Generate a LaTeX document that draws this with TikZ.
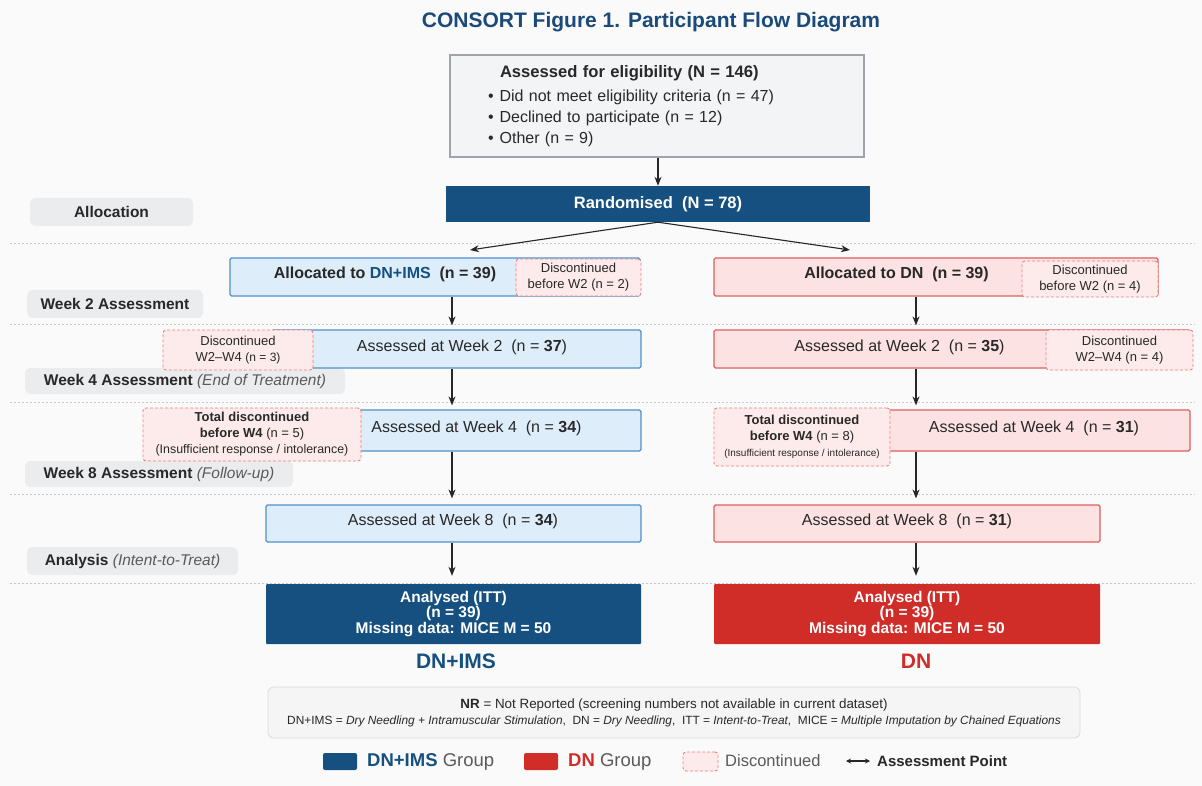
\documentclass[tikz,border=0pt]{standalone}
\usepackage{fontspec}
\setmainfont{Liberation Sans}
\usetikzlibrary{arrows.meta}
\definecolor{navy}{RGB}{22,80,128}
\definecolor{titleblue}{RGB}{26,74,122}
\definecolor{lblue}{RGB}{221,237,250}
\definecolor{bblue}{RGB}{79,145,205}
\definecolor{lpink}{RGB}{252,226,226}
\definecolor{bred}{RGB}{222,95,95}
\definecolor{dred}{RGB}{208,45,40}
\definecolor{dpink}{RGB}{253,234,234}
\definecolor{ddash}{RGB}{232,130,130}
\definecolor{lgray}{RGB}{235,236,238}
\definecolor{tgray}{RGB}{40,40,40}
\definecolor{igray}{RGB}{90,90,90}
\definecolor{sepgray}{RGB}{200,200,205}
\definecolor{bg}{RGB}{250,250,251}
\definecolor{elfill}{RGB}{243,244,246}
\definecolor{elbord}{RGB}{160,163,170}
\definecolor{notefill}{RGB}{245,245,246}
\definecolor{notebord}{RGB}{218,218,222}
\newcommand\fsz[2]{\fontsize{#1}{#2}\selectfont}
\tikzset{
  x=1pt, y=-1pt,
  bluebox/.style={draw=bblue, fill=lblue, line width=1.2pt, rounded corners=1.5pt, inner sep=0pt},
  redbox/.style={draw=bred, fill=lpink, line width=1.2pt, rounded corners=1.5pt, inner sep=0pt},
  darkbox/.style={fill=#1, inner sep=0pt, rounded corners=1pt, text=white, align=center, font=\fsz{15.5}{15.5}\bfseries},
  disc/.style={draw=ddash, fill=dpink, dash pattern=on 3pt off 2pt, line width=0.9pt, rounded corners=3pt,
     inner sep=0pt, align=center, text=tgray, font=\fsz{13}{16}},
  stage/.style={fill=lgray, rounded corners=5pt, inner sep=0pt, text=tgray, font=\fsz{15.5}{18}},
  btext/.style={text=tgray, font=\fsz{16}{19}, inner sep=0pt},
  sep/.style={draw=sepgray, dash pattern=on 2pt off 2pt, line width=0.8pt},
  arr/.style={-{Stealth[length=9pt,width=7pt]}, line width=1.1pt, draw=black!85},
}
\begin{document}
\begin{tikzpicture}
\fill[bg] (0,0) rectangle (1202,786);
\useasboundingbox (0,0) rectangle (1202,786);

% title
\node[text=titleblue, font=\fsz{21}{24}\bfseries] (title) at (651,22) {CONSORT Figure 1. Participant Flow Diagram};

% separators
\foreach \yy in {243,324,402,494,583} \draw[sep] (10,\yy) -- (1195,\yy);

% stage labels
\node[stage, minimum width=163pt, minimum height=28pt] (sAlloc) at (111.5,212) {\bfseries Allocation};
\node[stage, minimum width=176pt, minimum height=28pt] (sW2) at (115,304) {\bfseries Week 2 Assessment};
\node[stage, minimum width=320pt, minimum height=26pt] (sW4) at (185,381) {\textbf{Week 4 Assessment} \textcolor{igray}{\itshape (End of Treatment)}};
\node[stage, minimum width=268pt, minimum height=26pt] (sW8) at (159,474) {\textbf{Week 8 Assessment} \textcolor{igray}{\itshape (Follow-up)}};
\node[stage, minimum width=211pt, minimum height=28pt] (sAna) at (132.5,561) {\textbf{Analysis} \textcolor{igray}{\itshape (Intent-to-Treat)}};

% eligibility
\node[draw=elbord, fill=elfill, line width=1.2pt, inner sep=0pt, minimum width=414pt, minimum height=102pt,
      text width=338pt, align=left, text=tgray, font=\fsz{16}{21}] (elig) at (657,106)
 {\hspace*{12pt}{\fsz{16.6}{21}\bfseries Assessed for eligibility (N = 146)}\\[3pt]
  •\hspace{6pt}Did not meet eligibility criteria (n = 47)\\
  •\hspace{6pt}Declined to participate (n = 12)\\
  •\hspace{6pt}Other (n = 9)};

% randomised
\node[fill=navy, inner sep=0pt, minimum width=424pt, minimum height=36pt, text=white, font=\fsz{16.5}{19}\bfseries] (rand) at (658,204)
 {Randomised\ \ (N = 78)};

\coordinate (aL) at (470,250);
\coordinate (aR) at (850,250);
\coordinate (colL) at (452,0);
\coordinate (colR) at (916,0);

% allocation row
\node[bluebox, minimum width=410pt, minimum height=38pt] (allocL) at (435,277) {};
\node[btext, font=\fsz{16}{19}\bfseries] (allocLt) at (385,274) {Allocated to \textcolor{navy}{DN+IMS}\ \ (n = 39)};
\node[disc, minimum width=125pt, minimum height=37pt] (discL1) at (578.5,277.5) {Discontinued\\before W2 (n = 2)};

\node[redbox, minimum width=444pt, minimum height=38pt] (allocR) at (936,277) {};
\node[btext, font=\fsz{16}{19}\bfseries] (allocRt) at (896.5,274) {Allocated to DN\ \ (n = 39)};
\node[disc, minimum width=136pt, minimum height=36pt] (discR1) at (1090,279) {Discontinued\\before W2 (n = 4)};

% week 2 row
\node[bluebox, minimum width=369pt, minimum height=38pt] (wk2L) at (456.5,349) {};
\node[btext] (wk2Lt) at (462,347) {Assessed at Week 2\ \ (n = \textbf{37})};
\node[disc, minimum width=150pt, minimum height=40pt] (discL2) at (238,350) {Discontinued\\W2–W4 {\fsz{12}{16}(n = 3)}};

\node[redbox, minimum width=476pt, minimum height=38pt] (wk2R) at (952,349) {};
\node[btext] (wk2Rt) at (899.5,347) {Assessed at Week 2\ \ (n = \textbf{35})};
\node[disc, minimum width=147pt, minimum height=40pt] (discR2) at (1119.5,350) {Discontinued\\W2–W4 (n = 4)};

% week 4 row
\node[bluebox, minimum width=328pt, minimum height=41pt] (wk4L) at (477,430.5) {};
\node[btext] (wk4Lt) at (476.5,428) {Assessed at Week 4\ \ (n = \textbf{34})};
\node[disc, minimum width=218pt, minimum height=53pt] (discL3) at (252,434.5)
 {{\bfseries Total discontinued}\\{\bfseries before W4} (n = 5)\\{\fsz{12.4}{15}(Insufficient response / intolerance)}};

\node[redbox, minimum width=330pt, minimum height=41pt] (wk4R) at (1025,430.5) {};
\node[btext] (wk4Rt) at (1034,428) {Assessed at Week 4\ \ (n = \textbf{31})};
\node[disc, minimum width=176pt, minimum height=58pt] (discR3) at (802,437)
 {{\bfseries Total discontinued}\\{\bfseries before W4} (n = 8)\\{\fsz{10}{15}(Insufficient response / intolerance)}};

% week 8 row
\node[bluebox, minimum width=375pt, minimum height=37pt] (wk8L) at (453.5,523.5) {};
\node[btext] (wk8Lt) at (453,521) {Assessed at Week 8\ \ (n = \textbf{34})};
\node[redbox, minimum width=386pt, minimum height=37pt] (wk8R) at (907,523.5) {};
\node[btext] (wk8Rt) at (907,521) {Assessed at Week 8\ \ (n = \textbf{31})};

% analysed
\node[darkbox=navy, minimum width=375pt, minimum height=60pt] (anaL) at (453.5,614)
 {Analysed (ITT)\\(n = 39)\\Missing data: MICE M = 50};
\node[darkbox=dred, minimum width=386pt, minimum height=60pt] (anaR) at (907,614)
 {Analysed (ITT)\\(n = 39)\\Missing data: MICE M = 50};

\node[text=navy, font=\fsz{21}{24}\bfseries] (gL) at (456,661) {DN+IMS};
\node[text=dred, font=\fsz{21}{24}\bfseries] (gR) at (916,661) {DN};

% arrows
\draw[arr] (elig.south -| rand.north) -- (rand.north);
\draw[arr] (rand.south) -- (aL);
\draw[arr] (rand.south) -- (aR);
\draw[arr, shorten >=4pt] (allocL.south -| colL) -- (wk2L.north -| colL);
\draw[arr, shorten >=4pt] (wk2L.south -| colL) -- (wk4L.north -| colL);
\draw[arr, shorten >=6pt] (wk4L.south -| colL) -- (wk8L.north -| colL);
\draw[arr, shorten >=8pt] (wk8L.south -| colL) -- (anaL.north -| colL);
\draw[arr, shorten >=4pt] (allocR.south -| colR) -- (wk2R.north -| colR);
\draw[arr, shorten >=4pt] (wk2R.south -| colR) -- (wk4R.north -| colR);
\draw[arr, shorten >=6pt] (wk4R.south -| colR) -- (wk8R.north -| colR);
\draw[arr, shorten >=8pt] (wk8R.south -| colR) -- (anaR.north -| colR);

% note
\node[draw=notebord, fill=notefill, line width=0.8pt, rounded corners=6pt, inner sep=0pt,
      minimum width=812pt, minimum height=51pt, align=center, text=tgray] (note) at (674,712.5)
 {{\fsz{13.4}{18}\textbf{NR} = Not Reported (screening numbers not available in current dataset)}\\[4pt]
  {\fsz{11.9}{14}DN+IMS = \textit{Dry Needling + Intramuscular Stimulation},\ \ DN = \textit{Dry Needling},\ \ ITT = \textit{Intent-to-Treat},\ \ MICE = \textit{Multiple Imputation by Chained Equations}}};

% legend
\node[fill=navy, rounded corners=2pt, inner sep=0pt, minimum width=34pt, minimum height=17pt] (lgB) at (340,761.5) {};
\node[anchor=west, inner sep=0pt, text=igray, font=\fsz{18.5}{20}] (lgBt) at (367,761.5) {\textcolor{navy}{\bfseries DN+IMS} Group};
\node[fill=dred, rounded corners=2pt, inner sep=0pt, minimum width=34pt, minimum height=17pt] (lgR) at (541,761.5) {};
\node[anchor=west, inner sep=0pt, text=igray, font=\fsz{18.5}{20}] (lgRt) at (568,761.5) {\textcolor{dred}{\bfseries DN} Group};
\node[disc, minimum width=35pt, minimum height=19pt] (lgD) at (700.5,761.5) {};
\node[anchor=west, inner sep=0pt, text=igray, font=\fsz{16.5}{18}] (lgDt) at (725,761) {Discontinued};
\coordinate (lgA1) at (846,761);
\coordinate (lgA2) at (870,761);
\draw[{Stealth[length=5pt,width=5pt]}-{Stealth[length=5pt,width=5pt]}, line width=1.2pt, draw=black!85] (lgA1) -- (lgA2);
\node[anchor=west, inner sep=0pt, text=tgray, font=\fsz{15}{18}\bfseries] (lgAt) at (877,761.5) {Assessment Point};
\end{tikzpicture}
\end{document}
